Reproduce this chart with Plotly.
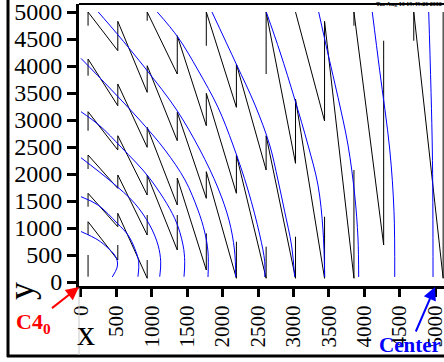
import plotly.graph_objects as go

# ---------------- data ----------------
x_tick_vals = [0, 500, 1000, 1500, 2000, 2500, 3000, 3500, 4000, 4500, 5000]
y_tick_vals = [0, 500, 1000, 1500, 2000, 2500, 3000, 3500, 4000, 4500, 5000]

# black zig-zag chains: (x, y) vertices
chain_a = [(100, 4747), (100, 5000), (520, 4284), (520, 4828), (935, 3513), (935, 4006),
           (1360, 2617), (1360, 3143), (1770, 1550), (1770, 2043), (2195, 69), (2195, 746)]
chain_b = [(100, 3821), (100, 4130), (520, 3265), (520, 3667), (935, 2495), (935, 2865),
           (1360, 1426), (1360, 1926), (1770, 222), (1770, 902)]
chain_c = [(100, 2802), (100, 3154), (520, 2445), (520, 2709), (935, 1611), (935, 1982),
           (1360, 593), (1360, 1241)]
chain_d = [(100, 2093), (100, 2352), (520, 1735), (520, 1982), (935, 870), (935, 1241)]
chain_e = [(100, 1395), (100, 1643), (520, 1024), (520, 1272), (935, 69), (935, 407)]
chain_f = [(100, 870), (100, 1117), (520, 407), (520, 685)]
chain_s = [(100, 98), (100, 500)]
chain_g = [(935, 4839), (935, 5000), (1360, 3852), (1360, 4562), (1770, 2895), (1770, 3495),
           (2195, 1643), (2195, 2352), (2615, 69), (2615, 654)]
chain_h = [(1770, 4376), (1770, 5000), (2195, 3235), (2195, 4037), (2615, 2074), (2615, 2709),
           (3030, 69), (3030, 839)]
chain_i = [(2615, 3852), (2615, 5000), (3030, 2198), (3030, 3389), (3440, 69), (3440, 1209)]
chain_j = [(3030, 5000), (3440, 2982), (3440, 4828), (3855, 69), (3855, 2074)]
chain_k = [(3855, 4747), (3855, 5000), (4275, 685), (4275, 4469)]
chain_l = [(4700, 4469), (4700, 5000), (5115, 69), (5115, 5000)]

# blue curves: (x, y) points
curve_1 = [(0, 935), (240, 778), (380, 630), (475, 500), (515, 370), (508, 260), (442, 93)]
curve_2 = [(0, 1580), (240, 1426), (513, 1087), (664, 870), (758, 624), (815, 376), (805, 98)]
curve_3 = [(0, 2302), (428, 1858), (758, 1458), (970, 1056), (1088, 685), (1126, 376), (1112, 98)]
curve_4 = [(0, 3154), (264, 2895), (569, 2495), (970, 1920), (1323, 1180), (1441, 685),
           (1465, 376), (1455, 98)]
curve_5 = [(0, 4142), (405, 3593), (829, 3000), (1186, 2445), (1469, 1889), (1652, 1333),
           (1747, 926), (1794, 556), (1794, 93)]
curve_6 = [(244, 5000), (504, 4606), (928, 3926), (1352, 3185), (1681, 2445), (1935, 1741),
           (2090, 1148), (2168, 593), (2185, 93)]
curve_7 = [(1078, 5000), (1370, 4532), (1652, 3926), (1935, 3235), (2147, 2537), (2359, 1704),
           (2525, 870), (2595, 376), (2595, 93)]
curve_8 = [(1850, 5000), (2193, 4037), (2458, 3278), (2665, 2537), (2782, 1889), (2877, 1302),
           (2973, 685), (3018, 93)]
curve_9 = [(2617, 5000), (2811, 4260), (3018, 3389), (3206, 2537), (3347, 1796), (3418, 963),
           (3442, 93)]
curve_10 = [(3357, 5000), (3489, 4223), (3630, 3421), (3771, 2537), (3866, 1611), (3912, 815),
            (3922, 93)]
curve_11 = [(4114, 5000), (4219, 3913), (4360, 2463), (4421, 1302), (4431, 93)]
curve_12 = [(4911, 5000), (4962, 2463), (4972, 93)]

black_chains = [chain_a, chain_b, chain_c, chain_d, chain_e, chain_f, chain_s,
                chain_g, chain_h, chain_i, chain_j, chain_k, chain_l]
blue_curves = [curve_1, curve_2, curve_3, curve_4, curve_5, curve_6,
               curve_7, curve_8, curve_9, curve_10, curve_11, curve_12]

# ---------------- figure ----------------
SERIF = "Liberation Serif"
fig = go.Figure()

bx, by = [], []
for ch in black_chains:
    bx += [p[0] for p in ch] + [None]
    by += [p[1] for p in ch] + [None]
fig.add_trace(go.Scatter(x=bx, y=by, mode="lines", line=dict(color="black", width=1),
                         hoverinfo="skip", showlegend=False))

for cv in blue_curves:
    fig.add_trace(go.Scatter(x=[p[0] for p in cv], y=[p[1] for p in cv], mode="lines",
                             line=dict(color="#0000ff", width=1, shape="spline", smoothing=1.0),
                             hoverinfo="skip", showlegend=False))

W, H = 444, 362
L, R, T, B = 79, 0, 4, 76
fig.update_layout(
    width=W, height=H,
    margin=dict(l=L, r=R, t=T, b=B, pad=0, autoexpand=False),
    paper_bgcolor="white", plot_bgcolor="white",
    showlegend=False,
    font=dict(family=SERIF, color="black"),
)
fig.update_xaxes(range=[-28, 5127], tickvals=x_tick_vals,
                 ticktext=[str(v) for v in x_tick_vals], automargin=False,
                 showgrid=False, zeroline=False, showline=True, linecolor="black", linewidth=3,
                 ticks="outside", ticklen=8, tickwidth=3, tickcolor="black",
                 ticklabeloverflow="allow",
                 tickangle=-90, tickfont=dict(family=SERIF, size=21, color="black"))
fig.update_yaxes(range=[-74, 5149], tickvals=y_tick_vals,
                 ticktext=[str(v) for v in y_tick_vals], automargin=False,
                 showgrid=False, zeroline=False, showline=True, linecolor="black", linewidth=3,
                 ticks="outside", ticklen=9, tickwidth=3, tickcolor="black",
                 ticklabeloverflow="allow",
                 tickfont=dict(family=SERIF, size=24, color="black"))

def px2paper_x(px):
    return (px - L) / (W - L - R)

def py2paper_y(py):
    return 1 - (py - T) / (H - T - B)

shapes = [
    # outer canvas border
    dict(type="line", xref="paper", yref="paper", x0=px2paper_x(8), x1=px2paper_x(8),
         y0=py2paper_y(0), y1=py2paper_y(357), line=dict(color="black", width=3)),
    dict(type="line", xref="paper", yref="paper", x0=px2paper_x(7), x1=px2paper_x(446),
         y0=py2paper_y(356), y1=py2paper_y(356), line=dict(color="black", width=3)),
    # frame top
    dict(type="line", xref="paper", yref="paper", x0=0, x1=px2paper_x(446),
         y0=1, y1=1, line=dict(color="black", width=2)),
    # thin grey pad edge below axis
    dict(type="line", xref="paper", yref="paper", x0=0, x1=0,
         y0=py2paper_y(288), y1=py2paper_y(355), line=dict(color="#c8c8c8", width=1)),
]
fig.update_layout(shapes=shapes)

annotations = [
    dict(text="y", xref="paper", yref="paper", x=px2paper_x(21), y=py2paper_y(291),
         xanchor="center", yanchor="middle",
         showarrow=False, textangle=-90, font=dict(family=SERIF, size=36, color="black")),
    dict(text="x", xref="paper", yref="paper", x=px2paper_x(86), y=py2paper_y(333),
         xanchor="center", yanchor="middle",
         showarrow=False, font=dict(family=SERIF, size=36, color="black")),
    dict(text="<b>C4<sub>0</sub></b>", xref="paper", yref="paper",
         x=px2paper_x(79), y=py2paper_y(287),
         showarrow=True, ax=-46, ay=36, axref="pixel", ayref="pixel",
         arrowhead=2, arrowsize=1.3, arrowwidth=2, arrowcolor="#ff0000",
         font=dict(family=SERIF, size=22, color="#ff0000")),
    dict(text="<b>Center</b>", xref="paper", yref="paper",
         x=px2paper_x(435), y=py2paper_y(287),
         showarrow=True, ax=-25, ay=58, axref="pixel", ayref="pixel",
         arrowhead=2, arrowsize=1.3, arrowwidth=2, arrowcolor="#0000ff",
         font=dict(family=SERIF, size=21, color="#0000ff")),
    dict(text="<b>Tue Aug 13 19:49:26 2002</b>", xref="paper", yref="paper",
         x=1, y=py2paper_y(4.5), xanchor="right", yanchor="middle",
         showarrow=False, font=dict(family=SERIF, size=6, color="black")),
]
fig.update_layout(annotations=annotations)

fig.write_html("out.html")
